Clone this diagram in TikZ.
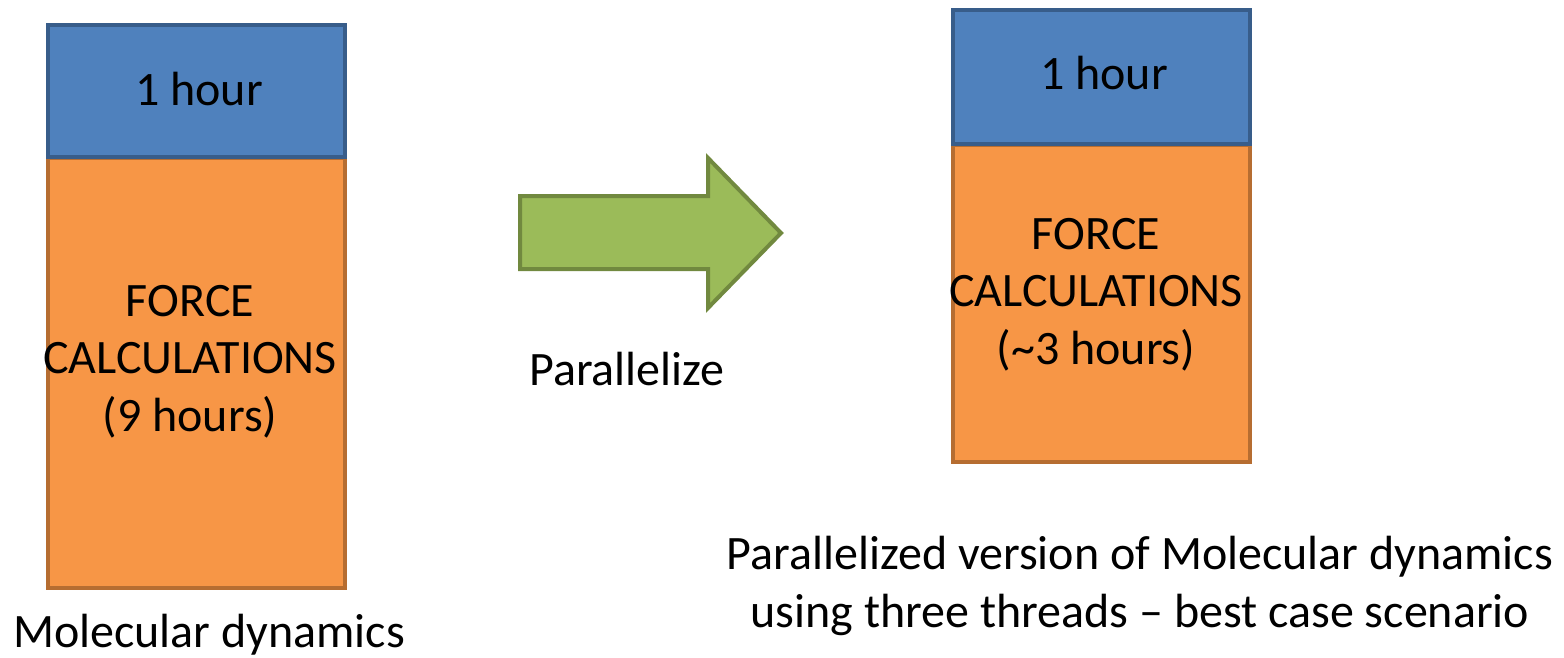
\documentclass[tikz,border=0pt]{standalone}
\usepackage{fontspec}
\setmainfont{Carlito}
\definecolor{blueFill}{HTML}{4F81BD}
\definecolor{blueLine}{HTML}{385D8A}
\definecolor{orangeFill}{HTML}{F79646}
\definecolor{orangeLine}{HTML}{B66D31}
\definecolor{greenFill}{HTML}{9BBB59}
\definecolor{greenLine}{HTML}{71893F}
\tikzset{
  bigtext/.style={font=\fontsize{24}{28.75}\selectfont, inner sep=0pt, align=center, anchor=base},
  bluebox/.style={fill=blueFill, draw=blueLine, line width=2pt},
  orangebox/.style={fill=orangeFill, draw=orangeLine, line width=2pt},
  greenarrow/.style={fill=greenFill, draw=greenLine, line width=2pt, line join=miter},
}
\begin{document}
\begin{tikzpicture}[x=0.5pt, y=-0.5pt]
  \useasboundingbox (0,0) rectangle (1564,658);

  % serial run (text nodes are anchored at the baseline of their last line)
  \draw[orangebox] (48,158) rectangle (345,588);
  \draw[bluebox] (48,25) rectangle (345,157);
  \node[bigtext] (hourA) at (199,105) {1 hour};
  \node[bigtext] (forceA) at (190,431) {FORCE\\CALCULATIONS\\(9 hours)};
  \node[bigtext] (labelA) at (209,647) {Molecular dynamics};

  % block arrow
  \draw[greenarrow] (520,196) -- (708,196) -- (708,158) -- (781,233)
        -- (708,308) -- (708,269) -- (520,269) -- cycle;
  \node[bigtext] (par) at (627,385) {Parallelize};

  % parallel run
  \draw[orangebox] (953,145) rectangle (1250,462);
  \draw[bluebox] (953,10) rectangle (1250,144);
  \node[bigtext] (hourB) at (1104,90) {1 hour};
  \node[bigtext] (forceB) at (1096,364) {FORCE\\CALCULATIONS\\(\char`~3 hours)};
  \node[bigtext] (labelB) at (1140,627) {Parallelized version of Molecular dynamics\\using three threads -- best case scenario};
\end{tikzpicture}
\end{document}
